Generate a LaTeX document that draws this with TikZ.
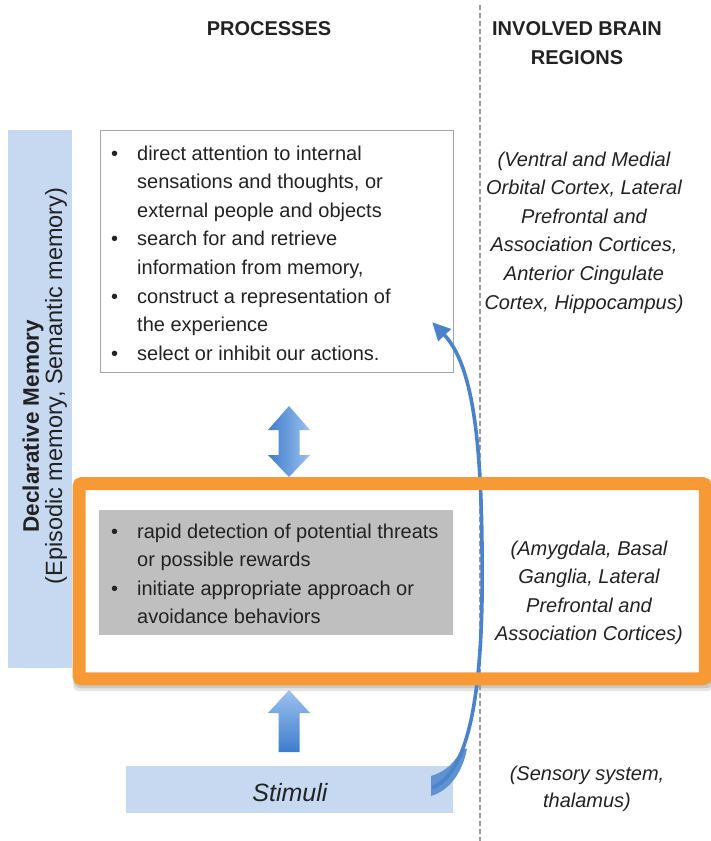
\documentclass[tikz,border=0pt]{standalone}
\usepackage{fontspec}
\setmainfont{Liberation Sans}
\usetikzlibrary{arrows.meta,calc}

\definecolor{barblue}{HTML}{C6D9F1}
\definecolor{boxgray}{HTML}{BFBFBF}
\definecolor{frameorange}{HTML}{F79A36}
\definecolor{arrowlight}{HTML}{9CC2EE}
\definecolor{arrowdark}{HTML}{3F7CCB}
\definecolor{curveblue}{HTML}{4A83CC}
\definecolor{dashgray}{HTML}{9A9A9A}
\definecolor{bordergray}{HTML}{A6A6A6}
\definecolor{txt}{HTML}{222222}

\begin{document}
\begin{tikzpicture}[x=1pt,y=-1pt,
  bodytext/.style={font=\fontsize{20pt}{28.6pt}\selectfont, text=txt, inner sep=0pt},
  regiontext/.style={font=\fontsize{20pt}{28.6pt}\selectfont\itshape, text=txt, inner sep=0pt},
  heading/.style={font=\fontsize{20pt}{29pt}\selectfont\bfseries, text=txt, inner sep=0pt},
  sidelabel/.style={rotate=90, text=txt, inner sep=0pt},
  panel/.style={draw=bordergray, line width=1.2pt, fill=white, inner sep=0pt, anchor=north west},
  bluebar/.style={fill=barblue, inner sep=0pt, anchor=north west},
  greybox/.style={fill=boxgray, inner sep=0pt, anchor=north west},
  framefill/.style={fill=white, inner sep=0pt, anchor=north west},
  framestroke/.style={draw=frameorange, line width=13pt, rounded corners=3pt},
  divider/.style={draw=dashgray, line width=1.8pt, dash pattern=on 5pt off 3pt},
  curvearrow/.style={draw=curveblue, line width=3.6pt, -{Triangle[length=18pt,width=17pt]}},
  blockarrow/.style={draw=none},
]
\useasboundingbox (0,0) rectangle (711,841);
\fill[white] (0,0) rectangle (711,841);

% left memory bar with rotated labels
\node[bluebar, minimum width=64pt, minimum height=538pt] (bar) at (8,130) {};
\node[sidelabel, font=\fontsize{22.5pt}{26pt}\selectfont\bfseries] (declab) at (33,426) {Declarative Memory};
\node[sidelabel, font=\fontsize{23.5pt}{26pt}\selectfont] (epilab) at (56,386) {(Episodic memory, Semantic memory)};

% upper process box
\node[panel, minimum width=353pt, minimum height=242pt] (topbox) at (100,130) {};
\node[bodytext, anchor=base west] (toplist) at (111,160) {%
  \begin{tabular}[t]{@{}p{26pt}@{}l@{}}
  • & direct attention to internal\\
    & sensations and thoughts, or\\
    & external people and objects\\
  • & search for and retrieve\\
    & information from memory,\\
  • & construct a representation of\\
    & the experience\\
  • & select or inhibit our actions.
  \end{tabular}};

% highlighted middle frame: shadow and white interior
\fill[black, opacity=0.10, rounded corners=6pt] (73,480) rectangle (713,691);
\fill[black, opacity=0.12, rounded corners=6pt] (74,480) rectangle (713,688);
\node[framefill, minimum width=626pt, minimum height=195pt] (frame) at (79,483.5) {};

% column divider
\coordinate (divtop) at (480,5);
\coordinate (divbot) at (480,841);
\draw[divider] (divtop) -- (divbot);

% fast-route process box
\node[greybox, minimum width=354pt, minimum height=125pt] (midbox) at (99,510) {};
\node[bodytext, anchor=base west] (midlist) at (111,538) {%
  \begin{tabular}[t]{@{}p{26pt}@{}l@{}}
  • & rapid detection of potential threats\\
    & or possible rewards\\
  • & initiate appropriate approach or\\
    & avoidance behaviors
  \end{tabular}};

% stimuli box
\node[bluebar, minimum width=327pt, minimum height=47pt] (stim) at (126,766) {};
\node[font=\fontsize{25pt}{30pt}\selectfont\itshape, text=txt, inner sep=0pt, anchor=base] (stimlab) at (290,801) {Stimuli};

% long route from the stimuli up to the process box
\coordinate (tail) at ($(stim.east)+(-21,-2)$);
\coordinate (bend) at (482,600);
\coordinate (tip) at ($(topbox.south east)+(-22,-51)$);
\fill[curveblue!88!white] (431,776) .. controls (445,772) and (456,762) .. (462,748)
  -- (467,749) .. controls (462,773) and (450,790) .. (431,796) -- cycle;
\draw[curvearrow] (tail) .. controls (462,775) and (480,720) .. (bend)
  .. controls (483,470) and (478,370) .. (tip);

% orange frame outline
\draw[framestroke] (frame.north west) rectangle (frame.south east);

% block arrows
\shade[blockarrow, left color=arrowdark, right color=arrowlight]
  (289,406) -- (310,430) -- (299.5,430) -- (299.5,455) -- (310,455) -- (289,477)
  -- (268,455) -- (278.5,455) -- (278.5,430) -- (268,430) -- cycle;
\shade[blockarrow, top color=arrowlight, bottom color=arrowdark]
  (289,690) -- (310,713) -- (299.5,713) -- (299.5,752) -- (278.5,752) -- (278.5,713)
  -- (268,713) -- cycle;

% column headings
\node[heading, anchor=base] (prochead) at (269,35) {PROCESSES};
\node[heading, anchor=base] (regionhead) at (577,35) {%
  \begin{tabular}[t]{@{}c@{}}INVOLVED BRAIN\\REGIONS\end{tabular}};

% brain regions column
\node[regiontext, anchor=base] (regtop) at (584,166) {%
  \begin{tabular}[t]{@{}c@{}}
  (Ventral and Medial\\
  Orbital Cortex, Lateral\\
  Prefrontal and\\
  Association Cortices,\\
  Anterior Cingulate\\
  Cortex, Hippocampus)
  \end{tabular}};
\node[regiontext, anchor=base] (regmid) at (589,555) {%
  \begin{tabular}[t]{@{}c@{}}
  (Amygdala, Basal\\
  Ganglia, Lateral\\
  Prefrontal and\\
  Association Cortices)
  \end{tabular}};
\node[font=\fontsize{20pt}{27pt}\selectfont\itshape, text=txt, inner sep=0pt, anchor=base] (regbot) at (587,780) {%
  \begin{tabular}[t]{@{}c@{}}
  (Sensory system,\\
  thalamus)
  \end{tabular}};
\end{tikzpicture}
\end{document}
